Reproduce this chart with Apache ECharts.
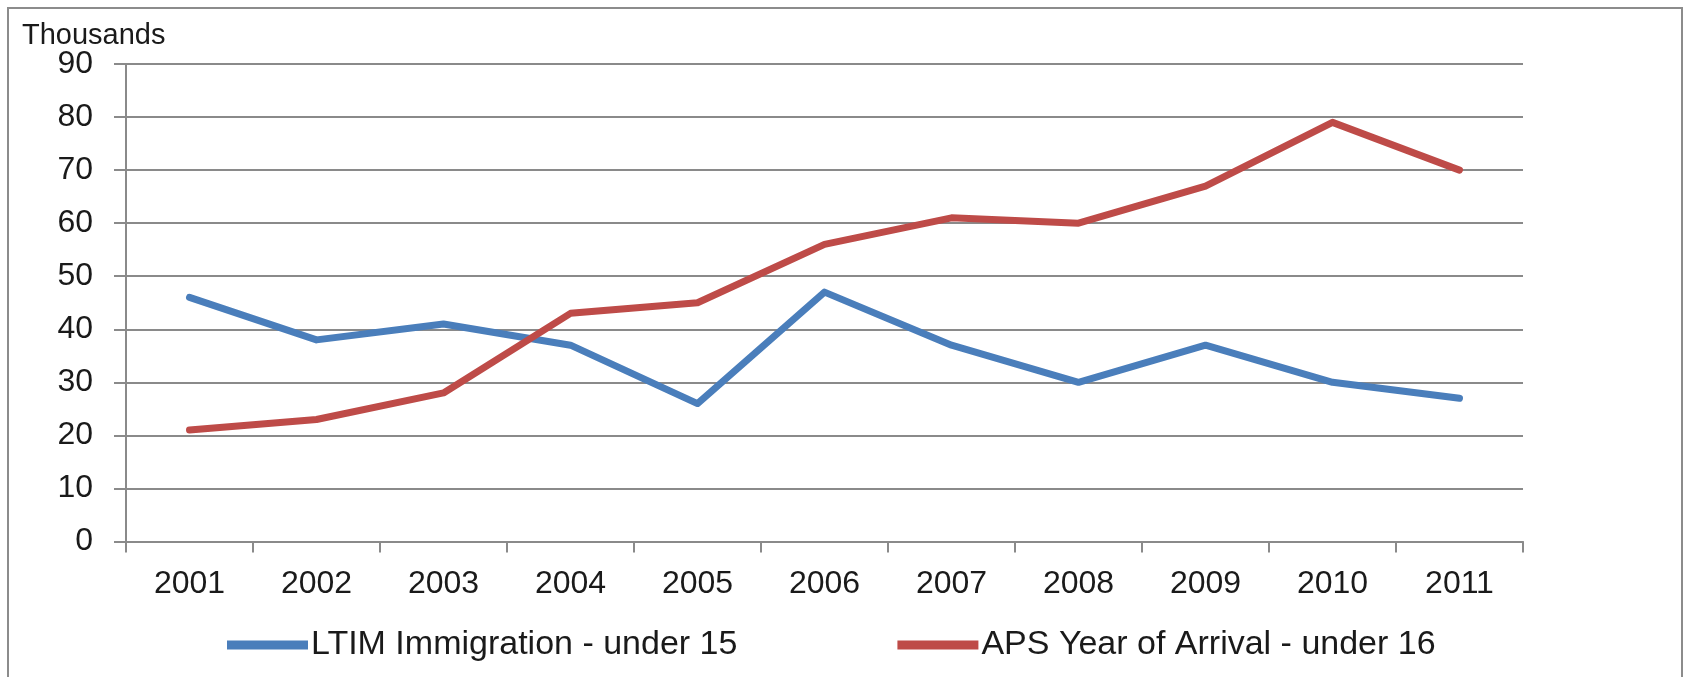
<!DOCTYPE html>
<html>
<head>
<meta charset="utf-8">
<script src="https://cdn.jsdelivr.net/npm/echarts@6/dist/echarts.min.js"></script>
<style>
html,body{margin:0;padding:0;background:#fff;}
#chart{width:1683px;height:677px;}
</style>
</head>
<body>
<div id="chart"></div>
<script>
const years = ['2001','2002','2003','2004','2005','2006','2007','2008','2009','2010','2011'];
const ltimUnder15 = [46, 38, 41, 37, 26, 47, 37, 30, 37, 30, 27];
const apsUnder16 = [21, 23, 28, 43, 45, 56, 61, 60, 67, 79, 70];
const seriesNames = ['LTIM Immigration - under 15', 'APS Year of Arrival - under 16'];
const yUnitLabel = 'Thousands';

const FONT = '"Liberation Sans", Arial, sans-serif';
const gridColor = '#8a8a8a';

const chart = echarts.init(document.getElementById('chart'), null, {renderer: 'canvas'});
chart.setOption({
  animation: false,
  backgroundColor: '#ffffff',
  textStyle: {fontFamily: FONT},
  graphic: [
    {
      type: 'rect',
      shape: {x: 8, y: 8, width: 1674, height: 720},
      style: {fill: 'none', stroke: '#8c8c8c', lineWidth: 2},
      silent: true
    },
    {
      type: 'text',
      left: 22,
      top: 21,
      style: {text: yUnitLabel, font: '29px ' + FONT, fill: '#1a1a1a'}
    }
  ],
  grid: {left: 126, right: 160, top: 64, bottom: 135.5, containLabel: false},
  legend: {
    left: 222,
    top: 623,
    itemWidth: 81,
    itemHeight: 9,
    itemGap: 160,
    icon: 'rect',
    textStyle: {fontSize: 34, fontFamily: FONT, color: '#1a1a1a', padding: [0, 0, 0, -2]},
    data: seriesNames
  },
  xAxis: {
    type: 'category',
    data: years,
    boundaryGap: true,
    axisLine: {lineStyle: {color: gridColor, width: 2}},
    axisTick: {show: true, length: 11, lineStyle: {color: gridColor, width: 2}},
    axisLabel: {fontSize: 32, lineHeight: 32, margin: 27, color: '#1a1a1a', fontFamily: FONT},
    splitLine: {show: false}
  },
  yAxis: {
    type: 'value',
    min: 0,
    max: 90,
    interval: 10,
    axisLine: {show: true, lineStyle: {color: gridColor, width: 2}},
    axisTick: {show: true, length: 12, lineStyle: {color: gridColor, width: 2}},
    axisLabel: {fontSize: 32, margin: 33, color: '#1a1a1a', fontFamily: FONT},
    splitLine: {show: true, lineStyle: {color: gridColor, width: 2}}
  },
  series: [
    {
      name: seriesNames[0],
      type: 'line',
      data: ltimUnder15,
      symbol: 'none',
      color: '#4A7EBB',
      lineStyle: {width: 7, color: '#4A7EBB', cap: 'round', join: 'round'}
    },
    {
      name: seriesNames[1],
      type: 'line',
      data: apsUnder16,
      symbol: 'none',
      color: '#BE4B48',
      lineStyle: {width: 7, color: '#BE4B48', cap: 'round', join: 'round'}
    }
  ]
});
</script>
</body>
</html>
